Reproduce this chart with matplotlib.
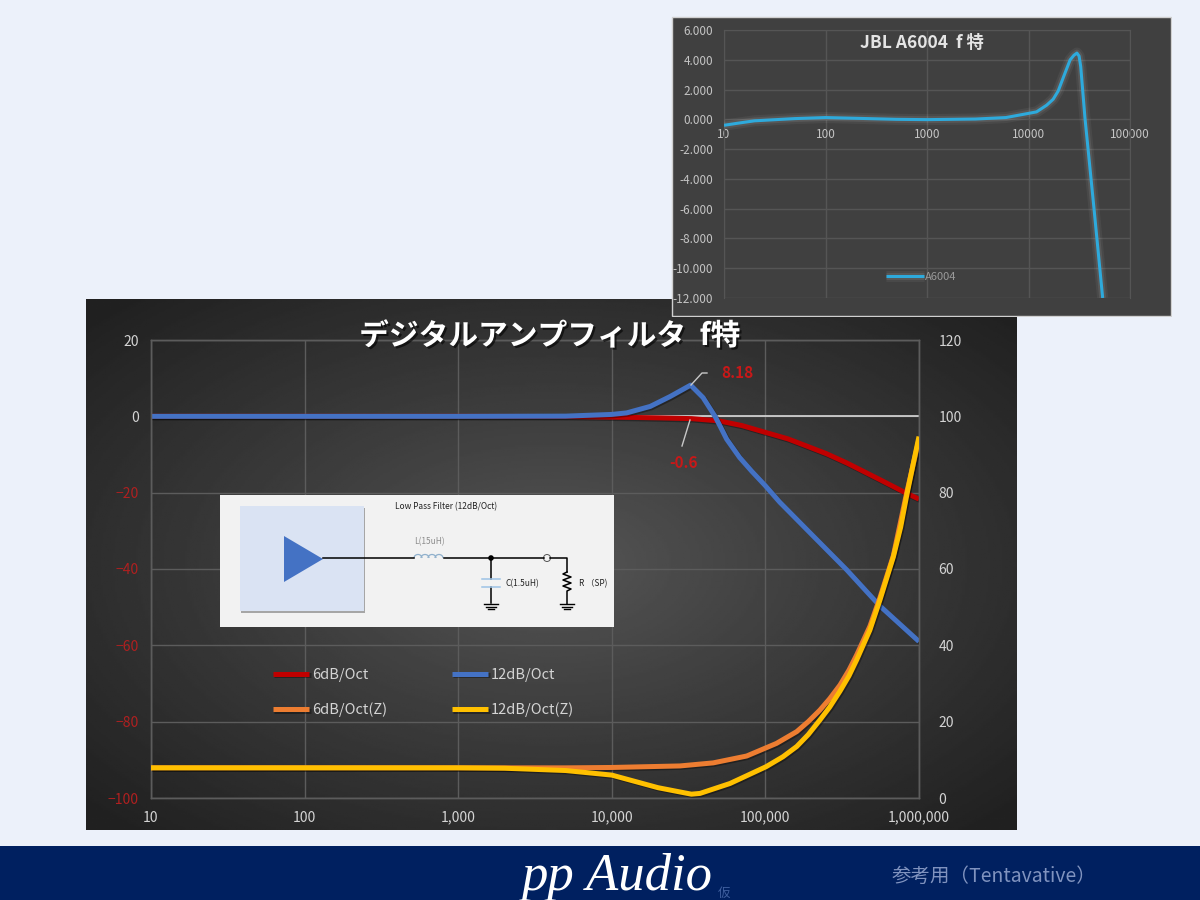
import matplotlib
matplotlib.use("Agg")
import matplotlib.pyplot as plt
import matplotlib.patheffects as pe
from matplotlib.patches import Rectangle, Polygon, Circle, Arc
from matplotlib.ticker import FixedLocator, NullLocator
import numpy as np

plt.rcParams['font.family'] = ['Noto Sans CJK JP', 'DejaVu Sans']

# main chart data
freq_6db = [10, 100, 1000, 5000, 10000, 20000, 33000, 50000, 70000, 100000, 140000, 186000, 250000, 338000, 557000, 787000, 1000000]
db_6db = [0, 0, 0, -0.05, -0.2, -0.4, -0.6, -1.2, -2.4, -4.2, -5.9, -7.8, -9.8, -12.2, -16.6, -19.7, -21.7]
freq_12db = [10, 100, 1000, 5000, 10000, 12500, 17800, 24000, 32600, 39300, 47000, 50600, 56000, 68000, 81500, 100000, 124000, 204000, 338000, 557000, 1000000]
db_12db = [0, 0, 0, 0.05, 0.5, 0.9, 2.6, 5.2, 8.18, 4.9, 0, -2.5, -6, -10.8, -14.4, -18.2, -22.5, -31.3, -40.2, -49.7, -59]
freq_6z = [10, 100, 1000, 5000, 10000, 27800, 45700, 75500, 118000, 160000, 190000, 226000, 262000, 306000, 350000, 393000, 479000, 557000, 681000, 832000, 1000000]
z_6z = [7.9, 7.9, 7.9, 7.9, 8, 8.4, 9.2, 11, 14.3, 17.4, 20, 23, 26, 29.6, 33.5, 37.5, 45, 52.5, 63.5, 80, 94]
freq_12z = [10, 100, 1000, 2000, 5000, 10000, 20000, 33000, 37500, 58800, 101000, 130000, 160000, 190000, 226000, 262000, 306000, 350000, 393000, 479000, 557000, 681000, 760000, 832000, 919000, 1000000]
z_12z = [7.9, 7.9, 7.9, 7.8, 7.2, 6, 2.7, 1, 1.2, 3.8, 8.2, 10.8, 13.5, 16.6, 20.4, 23.8, 28, 32, 36.2, 44, 51.9, 63.2, 71, 79.3, 87.7, 94.7]

# top chart data
freq_a6004 = [10, 14, 20, 50, 100, 200, 500, 1000, 3000, 6000, 10000, 12000, 15100, 17500, 19600, 22900, 25700, 28000, 30000, 31500, 32700, 36000, 44200, 53800]
db_a6004 = [-0.4, -0.25, -0.1, 0.05, 0.12, 0.07, 0, -0.02, 0.02, 0.12, 0.4, 0.5, 0.95, 1.35, 1.9, 3.11, 3.99, 4.3, 4.45, 4.25, 3.54, 0.09, -6, -12]

main_xticks = [10, 100, 1000, 10000, 100000, 1000000]
main_xlabels = ['10', '100', '1,000', '10,000', '100,000', '1,000,000']
main_yticks = [-100, -80, -60, -40, -20, 0, 20]
right_yticks = [0, 20, 40, 60, 80, 100, 120]
top_xticks = [10, 100, 1000, 10000, 100000]
top_yticks = [-12, -10, -8, -6, -4, -2, 0, 2, 4, 6]

W, H = 1200, 900
PAGE = '#ecf1fa'
LABEL = '#d4d4d4'
GRID = '#5c5c5c'
RED = '#c00000'
RED_LABEL = '#b02020'
BLUE = '#4472c4'
ORANGE = '#ed7d31'
YELLOW = '#ffc000'


def px_axes(x0, y0, x1, y1, **kw):
    ax = fig.add_axes([x0 / W, 1 - y1 / H, (x1 - x0) / W, (y1 - y0) / H], **kw)
    ax.patch.set_alpha(0)
    return ax


fig = plt.figure(figsize=(12, 9), dpi=100, facecolor=PAGE)

# page background, in pixel coordinates
bg = px_axes(0, 0, W, H, zorder=0)
bg.axis('off')

# main panel with radial gradient
gx, gy = np.meshgrid(np.linspace(-1, 1, 400), np.linspace(-1, 1, 300))
shade = 0.34 - 0.21 * np.clip(np.hypot(gx, gy) / 1.35, 0, 1) ** 0.9
bg.imshow(shade, cmap='gray', vmin=0, vmax=1, extent=(86, 1017, 830, 299), aspect='auto', zorder=1)
bg.set_xlim(0, W)
bg.set_ylim(H, 0)

# footer band
bg.add_patch(Rectangle((0, 846), W, 54, fc='#002060', ec='none', zorder=1))
bg.text(617, 877, 'pp Audio', family='Liberation Serif', style='italic', fontsize=38, color='white',
        ha='center', va='center', zorder=2)
bg.text(724, 893, '仮', fontsize=9, color='#3f5f9f', ha='center', va='center', zorder=2)
bg.text(994, 876, '参考用（Tentavative）', fontsize=14, color='#8093bf', ha='center', va='center', zorder=2)

# main chart
ax = px_axes(151, 340, 919, 798, zorder=2)
ax2 = ax.twinx()
ax2.patch.set_alpha(0)
shadow = [pe.SimpleLineShadow(offset=(1, -1), shadow_color='black', alpha=0.35), pe.Normal()]

l1, = ax.plot(freq_6db, db_6db, color=RED, lw=3.6, label='6dB/Oct', path_effects=shadow, zorder=3, solid_capstyle='butt')
l2, = ax.plot(freq_12db, db_12db, color=BLUE, lw=3.6, label='12dB/Oct', path_effects=shadow, zorder=4, solid_capstyle='butt')
l3, = ax2.plot(freq_6z, z_6z, color=ORANGE, lw=3.6, label='6dB/Oct(Z)', path_effects=shadow, zorder=3, solid_capstyle='butt')
l4, = ax2.plot(freq_12z, z_12z, color=YELLOW, lw=3.6, label='12dB/Oct(Z)', path_effects=shadow, zorder=4, solid_capstyle='butt')

ax.set_xscale('log')
ax.set_xlim(10, 1000000)
ax.set_ylim(-100, 20)
ax2.set_ylim(0, 120)
ax.xaxis.set_major_locator(FixedLocator(main_xticks))
ax.xaxis.set_minor_locator(NullLocator())
ax.set_xticklabels(main_xlabels)
ax.set_yticks(main_yticks)
ax2.set_yticks(right_yticks)
ax.grid(True, color=GRID, lw=1)
ax.axhline(0, color='#d9d9d9', lw=1.2, zorder=2)
ax.tick_params(axis='both', length=0, labelsize=10, colors=LABEL, pad=9)
ax2.tick_params(axis='y', length=0, labelsize=10, colors=LABEL, pad=14)
for t, v in zip(ax.get_yticklabels(), main_yticks):
    t.set_color(RED_LABEL if v < 0 else LABEL)
for axis in (ax, ax2):
    for s in axis.spines.values():
        s.set_color(GRID)
        s.set_linewidth(1)

fig.text(550 / W, 1 - 336 / H, 'デジタルアンプフィルタ  f特', fontsize=21.4, fontweight='bold', color='white',
         ha='center', va='center', zorder=6,
         path_effects=[pe.withSimplePatchShadow(offset=(1.5, -1.5), shadow_rgbFace='black', alpha=0.6)])

leg = ax2.legend(handles=[l1, l3, l2, l4], ncol=2, frameon=False, fontsize=10.5, labelcolor=LABEL,
                 loc='upper left', bbox_to_anchor=(273 / W, 1 - 668 / H), bbox_transform=fig.transFigure,
                 handlelength=2.5, handletextpad=0.2, columnspacing=4.4, labelspacing=1.42,
                 borderpad=0, borderaxespad=0)

# overlay: data labels and filter diagram
fg = px_axes(0, 0, W, H, zorder=4)
fg.set_xlim(0, W)
fg.set_ylim(H, 0)
fg.axis('off')

fg.plot([691, 702, 707], [385, 373, 373], color='#c8c8c8', lw=1)
fg.plot([690, 682], [420, 446], color='#c8c8c8', lw=1)
fg.text(737, 373, '8.18', color='#c81818', fontsize=11, fontweight='bold', ha='center', va='center')
fg.text(683, 463, '-0.6', color='#c81818', fontsize=11, fontweight='bold', ha='center', va='center')

fg.add_patch(Rectangle((220, 495), 394, 132, fc='#f2f2f2', ec='none'))
fg.add_patch(Rectangle((241, 508), 124, 105, fc='#a6a6a6', ec='none'))
fg.add_patch(Rectangle((240, 506), 124, 105, fc='#dae3f3', ec='none'))
fg.add_patch(Polygon([(284, 536), (284, 582), (323, 559)], fc=BLUE, ec='none'))
fg.text(446, 507, 'Low Pass Filter (12dB/Oct)', fontsize=6, color='#222222', ha='center', va='center')
fg.text(429, 542, 'L(15uH)', fontsize=6, color='#8c8c8c', ha='center', va='center')
fg.text(522, 584, 'C(1.5uH)', fontsize=6, color='#222222', ha='center', va='center')
fg.text(593, 584, 'R （SP)', fontsize=6, color='#222222', ha='center', va='center')

fg.plot([323, 414], [558, 558], color='black', lw=1.1)
fg.plot([444, 544], [558, 558], color='black', lw=1.1)
fg.plot([550, 567, 567], [558, 558, 572], color='black', lw=1.1)
for cx in [418, 425, 432, 439]:
    fg.add_patch(Arc((cx, 558), 8, 7, theta1=180, theta2=360, color='#8fb0cc', lw=0.9))
fg.add_patch(Circle((491, 558), 2.8, fc='black', ec='none'))
fg.add_patch(Circle((547, 558), 3.5, fc='#f2f2f2', ec='#555555', lw=0.7))
fg.plot([491, 491], [558, 579], color='black', lw=1.1)
fg.plot([491, 491], [587, 603], color='black', lw=1.1)
fg.plot([482, 500], [579, 579], color='#9dc3e6', lw=1.1)
fg.plot([482, 500], [587, 587], color='#9dc3e6', lw=1.1)
fg.plot([567, 563, 571, 563, 571, 563, 571, 567, 567],
        [572, 574, 577, 580, 583, 586, 589, 591, 604], color='black', lw=1.1)
for gnd in [491, 567]:
    fg.plot([gnd - 7, gnd + 7], [604, 604], color='black', lw=1)
    fg.plot([gnd - 5, gnd + 5], [606.5, 606.5], color='black', lw=1)
    fg.plot([gnd - 3, gnd + 3], [609, 609], color='black', lw=1)

# top chart panel
top_bg = px_axes(671, 16, 1172, 317, zorder=5)
top_bg.set_xlim(671, 1172)
top_bg.set_ylim(317, 16)
top_bg.axis('off')
top_bg.add_patch(Rectangle((672, 17), 499, 299, fc='#404040', ec='#d0d0d0', lw=1))

ax3 = px_axes(724, 30, 1130, 298, zorder=6)
ax3.set_xscale('log')
ax3.set_xlim(10, 100000)
ax3.set_ylim(-12, 6)
ax3.xaxis.set_major_locator(FixedLocator(top_xticks))
ax3.xaxis.set_minor_locator(NullLocator())
ax3.set_xticklabels([str(v) for v in top_xticks])
ax3.set_yticks(top_yticks)
ax3.set_yticklabels(['%.3f' % v for v in top_yticks])
ax3.grid(True, color='#555555', lw=1)
ax3.tick_params(axis='both', length=0, labelsize=8.5, colors='#c4c4c4')
ax3.tick_params(axis='y', pad=8)
ax3.tick_params(axis='x', pad=6)
for side, s in ax3.spines.items():
    s.set_color('#555555')
ax3.spines['bottom'].set_position(('data', 0))
glow = [pe.Stroke(linewidth=8, foreground='white', alpha=0.05),
        pe.Stroke(linewidth=5, foreground='white', alpha=0.08), pe.Normal()]
l5, = ax3.plot(freq_a6004, db_a6004, color='#2eaadc', lw=2.2, label='A6004', path_effects=glow, zorder=3,
               solid_capstyle='butt')
ax3.legend(handles=[l5], frameon=False, fontsize=8, labelcolor='#9a9a9a', loc='center',
           bbox_to_anchor=(921 / W, 1 - 277 / H), bbox_transform=fig.transFigure,
           handlelength=3.4, handletextpad=0.1, borderpad=0)
ax3.text(922 / W, 1 - 43 / H, 'JBL A6004  f 特', transform=fig.transFigure, fontsize=12.5, fontweight='bold',
         color='#e4e4e4', ha='center', va='center')

fig.savefig("out.png", dpi=100, facecolor=PAGE)
